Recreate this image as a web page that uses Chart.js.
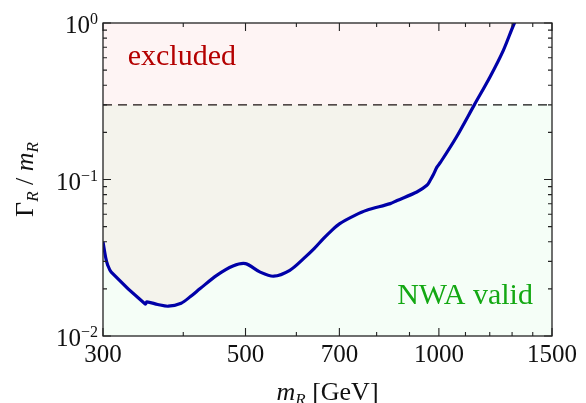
<!DOCTYPE html>
<html>
<head>
<meta charset="utf-8">
<script src="https://cdn.jsdelivr.net/npm/chart.js@4/dist/chart.umd.min.js"></script>
<style>
html,body{margin:0;padding:0;background:#fff;}
#wrap{width:586px;height:403px;}
</style>
</head>
<body>
<div id="wrap"><canvas id="c" width="586" height="403"></canvas></div>
<script>
// ---- data ----
const massGeV = [300, 303, 305, 309, 349, 351, 365, 379, 397, 410, 425, 451, 478, 500, 527, 553, 586, 615, 640, 661, 680, 701, 740, 772, 840, 861, 924, 958, 969, 981, 993, 1006, 1065, 1136, 1201, 1260, 1311, 1330];
const widthRatio = [0.040, 0.0315, 0.0285, 0.0256, 0.0160, 0.0165, 0.0159, 0.0155, 0.0162, 0.0178, 0.0201, 0.0244, 0.0280, 0.0290, 0.0256, 0.0241, 0.0263, 0.0311, 0.0363, 0.0419, 0.0470, 0.0523, 0.0590, 0.0636, 0.0701, 0.0734, 0.0832, 0.0918, 0.0985, 0.108, 0.120, 0.129, 0.187, 0.301, 0.452, 0.669, 1.0, 1.1];
const nwaLimit = 0.3;
const xRange = [300, 1500];
const yRange = [0.01, 1];
const xMajorTicks = [300, 500, 700, 1000, 1500];
const xMinorTicks = [400, 600, 800, 900, 1100, 1200, 1300, 1400];
const yMajorTicks = [0.01, 0.1, 1];
const yMajorExp = ["−2", "−1", "0"];
const yMinorTicks = [0.02,0.03,0.04,0.05,0.06,0.07,0.08,0.09,0.2,0.3,0.4,0.5,0.6,0.7,0.8,0.9];
const labelExcluded = "excluded";
const labelNWA = "NWA valid";

const curve = massGeV.map((m, i) => ({x: m, y: widthRatio[i]}));
const nwaLine = [{x: xRange[0], y: nwaLimit}, {x: xRange[1], y: nwaLimit}];

const SERIF = '"Liberation Serif", "Times New Roman", serif';

const decor = {
  id: 'decor',
  afterDraw(chart) {
    const ctx = chart.ctx;
    const xs = chart.scales.x, ys = chart.scales.y;
    const a = chart.chartArea;
    ctx.save();
    // annotations
    ctx.font = '30px ' + SERIF;
    ctx.fillStyle = '#b40000';
    ctx.textBaseline = 'alphabetic';
    ctx.textAlign = 'left';
    ctx.fillText(labelExcluded, xs.getPixelForValue(327.8), ys.getPixelForValue(0.537));
    ctx.fillStyle = '#13a813';
    ctx.textAlign = 'right';
    ctx.fillText(labelNWA, xs.getPixelForValue(1401), ys.getPixelForValue(0.0161));

    // frame
    ctx.strokeStyle = '#222';
    ctx.lineWidth = 1.3;
    ctx.strokeRect(a.left, a.top, a.right - a.left, a.bottom - a.top);
    ctx.lineWidth = 1.1;
    ctx.beginPath();
    const xt = (v, len) => {
      const p = xs.getPixelForValue(v);
      ctx.moveTo(p, a.bottom); ctx.lineTo(p, a.bottom - len);
      ctx.moveTo(p, a.top); ctx.lineTo(p, a.top + len);
    };
    const yt = (v, len) => {
      const p = ys.getPixelForValue(v);
      ctx.moveTo(a.left, p); ctx.lineTo(a.left + len, p);
      ctx.moveTo(a.right, p); ctx.lineTo(a.right - len, p);
    };
    xMajorTicks.forEach(v => xt(v, 8));
    xMinorTicks.forEach(v => xt(v, 4));
    yMajorTicks.forEach(v => yt(v, 8));
    yMinorTicks.forEach(v => yt(v, 4));
    ctx.stroke();

    // x tick labels
    ctx.fillStyle = '#111';
    ctx.font = '25px ' + SERIF;
    ctx.textAlign = 'center';
    ctx.textBaseline = 'alphabetic';
    xMajorTicks.forEach(v => ctx.fillText(String(v), xs.getPixelForValue(v), 362));

    // y tick labels 10^n
    yMajorTicks.forEach((v, i) => {
      const p = ys.getPixelForValue(v);
      ctx.font = '16px ' + SERIF;
      const w2 = ctx.measureText(yMajorExp[i]).width;
      const right = a.left - 5;
      ctx.textAlign = 'left';
      ctx.fillText(yMajorExp[i], right - w2, p + 1);
      ctx.font = '25px ' + SERIF;
      ctx.textAlign = 'right';
      ctx.fillText('10', right - w2, p + 10);
    });

    const drawParts = (list, cx, baseY) => {
      let total = 0;
      list.forEach(p => { ctx.font = p.f; p.w = ctx.measureText(p.t).width; total += p.w; });
      let x = cx - total / 2;
      ctx.textAlign = 'left';
      list.forEach(p => { ctx.font = p.f; ctx.fillText(p.t, x, baseY + p.dy); x += p.w; });
    };
    // x axis title: m_R [GeV]
    drawParts([
      {t: 'm', f: 'italic 26px ' + SERIF, dy: 0},
      {t: 'R', f: 'italic 17px ' + SERIF, dy: 5},
      {t: ' [GeV]', f: '26px ' + SERIF, dy: 0}
    ], (a.left + a.right) / 2, 400);

    // y axis title: Γ_R / m_R (rotated)
    ctx.save();
    ctx.translate(33, (a.top + a.bottom) / 2);
    ctx.rotate(-Math.PI / 2);
    drawParts([
      {t: 'Γ', f: '26px ' + SERIF, dy: 0},
      {t: 'R', f: 'italic 17px ' + SERIF, dy: 5},
      {t: ' / ', f: '26px ' + SERIF, dy: 0},
      {t: 'm', f: 'italic 26px ' + SERIF, dy: 0},
      {t: 'R', f: 'italic 17px ' + SERIF, dy: 5}
    ], 0, 0);
    ctx.restore();
    ctx.restore();
  }
};

new Chart(document.getElementById('c'), {
  type: 'line',
  data: {
    datasets: [
      {
        data: curve,
        borderColor: '#0000a8',
        borderWidth: 3.2,
        pointRadius: 0,
        tension: 0.3,
        fill: 'end',
        backgroundColor: 'rgba(235,40,40,0.05)',
        order: 0
      },
      {
        data: nwaLine,
        borderColor: '#111',
        borderWidth: 1.2,
        borderDash: [9, 6],
        pointRadius: 0,
        fill: 'start',
        backgroundColor: 'rgba(20,230,80,0.045)',
        order: 1
      }
    ]
  },
  options: {
    responsive: false,
    animation: false,
    devicePixelRatio: 1,
    layout: {padding: {left: 103, right: 34, top: 23, bottom: 67}},
    plugins: {legend: {display: false}, tooltip: {enabled: false}},
    scales: {
      x: {type: 'logarithmic', min: xRange[0], max: xRange[1], display: false},
      y: {type: 'logarithmic', min: yRange[0], max: yRange[1], display: false}
    }
  },
  plugins: [decor]
});
</script>
</body>
</html>
